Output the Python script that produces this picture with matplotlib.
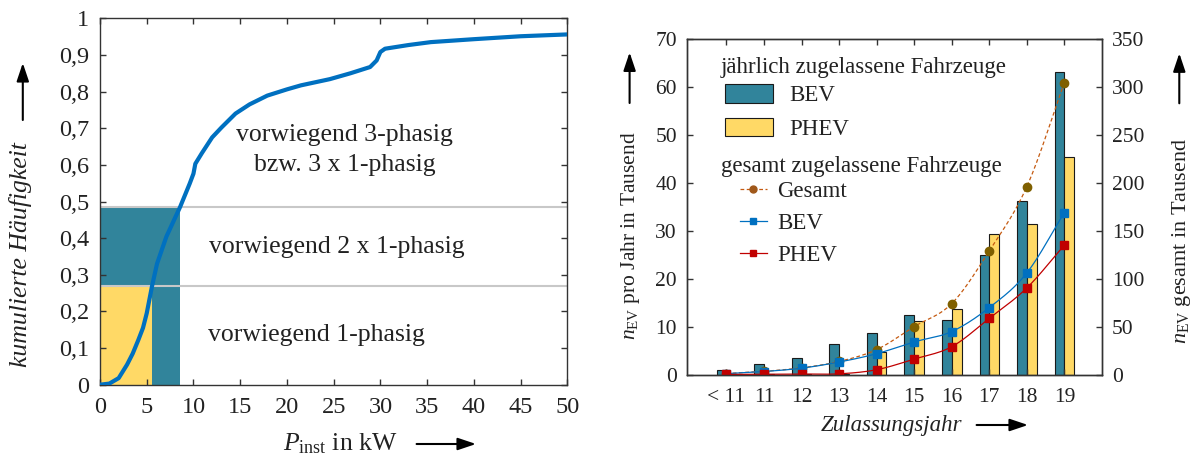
import matplotlib
matplotlib.use('Agg')
import matplotlib.pyplot as plt
from matplotlib.patches import Patch
from matplotlib.lines import Line2D
import numpy as np

plt.rcParams['font.family'] = ['Liberation Serif', 'DejaVu Serif']
plt.rcParams['mathtext.fontset'] = 'custom'
plt.rcParams['mathtext.rm'] = 'Liberation Serif'
plt.rcParams['mathtext.it'] = 'Liberation Serif:italic'
plt.rcParams['font.size'] = 16

# ---- linkes Diagramm: kumulierte Haeufigkeit ueber P_inst ----
p_inst = [0, 1.0, 2.0, 2.9, 3.5, 4.1, 4.6, 5.0, 5.55, 6.1, 7.1, 8.57, 9.6, 10.0,
          10.2, 10.9, 12.0, 13.0, 14.5, 16.0, 17.9, 20.0, 21.5, 24.6, 26.8, 28.9,
          29.6, 30.0, 30.5, 33.0, 35.4, 40.0, 45.0, 50.0]
haeufigkeit = [0, 0.003, 0.018, 0.055, 0.085, 0.122, 0.155, 0.195, 0.267, 0.33,
               0.404, 0.485, 0.549, 0.576, 0.603, 0.632, 0.675, 0.702, 0.74, 0.765,
               0.789, 0.806, 0.817, 0.834, 0.85, 0.867, 0.885, 0.908, 0.917, 0.927,
               0.935, 0.943, 0.951, 0.956]
grenze_p = [5.6, 8.6]        # kW
grenze_h = [0.27, 0.485]     # kumulierte Haeufigkeit

# ---- rechtes Diagramm: Zulassungen ----
jahre = ['< 11', '11', '12', '13', '14', '15', '16', '17', '18', '19']
bev_jahr = [0.9, 2.1, 3.4, 6.4, 8.6, 12.4, 11.3, 25.0, 36.1, 63.2]
phev_jahr = [0.1, 0.2, 0.2, 0.2, 4.6, 11.1, 13.7, 29.4, 31.4, 45.3]
gesamt = [1.0, 3.3, 7.0, 13.6, 26.0, 50.0, 74.0, 129.0, 196.0, 304.5]
bev_ges = [0.9, 3.1, 6.6, 13.0, 21.7, 34.0, 44.8, 69.8, 106.0, 169.0]
phev_ges = [0.1, 0.3, 0.5, 0.7, 5.0, 16.1, 29.0, 58.6, 90.3, 135.0]

teal = '#31849b'
gelb = '#ffd966'
blau = '#0070c0'
rot = '#c00000'
orange = '#c55a11'
braun = '#7f6000'
txt = '#222222'

fs_l = 18.5   # Schrift links
fs_r = 16.5   # Schrift rechts


def glatt(y, n=20):
    # Catmull-Rom Kurve durch gleichabstaendige Punkte
    y = np.asarray(y, float)
    m = np.empty_like(y)
    m[1:-1] = (y[2:] - y[:-2]) / 2
    m[0] = y[1] - y[0]
    m[-1] = y[-1] - y[-2]
    xs, ys = [], []
    t = np.linspace(0, 1, n, endpoint=False)
    h00 = 2*t**3 - 3*t**2 + 1
    h10 = t**3 - 2*t**2 + t
    h01 = -2*t**3 + 3*t**2
    h11 = t**3 - t**2
    for i in range(len(y) - 1):
        xs.extend(i + t)
        ys.extend(h00*y[i] + h10*m[i] + h01*y[i+1] + h11*m[i+1])
    xs.append(len(y) - 1)
    ys.append(y[-1])
    return np.array(xs), np.array(ys)


fig = plt.figure(figsize=(11.96, 4.58), dpi=100)
W, H = 1196.0, 458.0

# ================= links =================
ax = fig.add_axes([100/W, 1-384.7/H, 467.3/W, 366.4/H])
ax.fill_between([0, grenze_p[1]], 0, grenze_h[1], color=teal, lw=0, zorder=1)
ax.fill_between([0, grenze_p[0]], 0, grenze_h[0], color=gelb, lw=0, zorder=1)
for h in grenze_h:
    ax.axhline(h, color='#c8c8c8', lw=1.5, zorder=2)
ax.plot(p_inst, haeufigkeit, color=blau, lw=3, zorder=3, solid_capstyle='butt')

ax.set_xlim(0, 50)
ax.set_ylim(0, 1)
ax.set_xticks(range(0, 51, 5))
yt = np.round(np.arange(0, 1.01, 0.1), 1)
ax.set_yticks(yt)
ax.set_yticklabels(['0' if v == 0 else '1' if v == 1 else ('%.1f' % v).replace('.', ',') for v in yt])
ax.tick_params(direction='in', top=True, right=True, length=4, width=1,
               labelsize=17.5, colors='#333333', labelcolor=txt)
ax.tick_params(axis='x', pad=9)
ax.tick_params(axis='y', pad=8)
for s in ax.spines.values():
    s.set_color('#333333')
    s.set_linewidth(1)

ax.text(26.2, 0.681, 'vorwiegend 3-phasig', ha='center', va='center', fontsize=fs_l, color=txt)
ax.text(26.2, 0.599, 'bzw. 3 x 1-phasig', ha='center', va='center', fontsize=fs_l, color=txt)
ax.text(25.3, 0.376, 'vorwiegend 2 x 1-phasig', ha='center', va='center', fontsize=fs_l, color=txt)
ax.text(23.2, 0.136, 'vorwiegend 1-phasig', ha='center', va='center', fontsize=fs_l, color=txt)

fig.text(21/W, 1-254.6/H, 'kumulierte Häufigkeit', rotation=90, ha='center',
         va='center', style='italic', fontsize=fs_l, color=txt)
fig.text(339.8/W, 1-444/H, r'$P_{\mathrm{inst}}$ in kW', ha='center', va='center',
         fontsize=fs_l, color=txt)

# ================= rechts =================
ax1 = fig.add_axes([686.7/W, 1-374.5/H, 415.6/W, 335.5/H])
ax2 = ax1.twinx()
x = np.arange(len(jahre))
ax1.bar(x, bev_jahr, width=-0.26, align='edge', color=teal, edgecolor='#1a1a1a', lw=0.8)
ax1.bar(x, phev_jahr, width=0.26, align='edge', color=gelb, edgecolor='#1a1a1a', lw=0.8)

for werte, farbe, ls, mk, mc, ms in [(gesamt, orange, (0, (3, 2)), 'o', braun, 6),
                                     (bev_ges, blau, '-', 's', blau, 6),
                                     (phev_ges, rot, '-', 's', rot, 6)]:
    gx, gy = glatt(werte)
    ax2.plot(gx, gy, color=farbe, lw=0.9, ls=ls)
    ax2.plot(x, werte, ls='none', marker=mk, ms=ms, mfc=mc, mec=mc)

ax1.set_xlim(-1.06, 10.01)
ax1.set_ylim(0, 70)
ax2.set_ylim(0, 350)
ax1.set_xticks(x)
ax1.set_xticklabels(jahre)
ax1.set_yticks(range(0, 71, 10))
ax2.set_yticks(range(0, 351, 50))
ax1.tick_params(direction='in', top=True, right=False, length=4, width=1,
                pad=7, labelsize=15.5, colors='#333333', labelcolor=txt)
ax1.tick_params(axis='x', pad=10)
ax2.tick_params(direction='in', length=4, width=1, pad=7, labelsize=15.5,
                colors='#333333', labelcolor=txt)
for a in (ax1, ax2):
    for s in a.spines.values():
        s.set_color('#333333')
        s.set_linewidth(1)

ax2.text(0.0825, 0.914, 'jährlich zugelassene Fahrzeuge', transform=ax2.transAxes,
         ha='left', va='center', fontsize=fs_r, color=txt)
leg1 = ax2.legend(handles=[Patch(fc=teal, ec='#1a1a1a', lw=0.8, label='BEV'),
                           Patch(fc=gelb, ec='#1a1a1a', lw=0.8, label='PHEV')],
                  loc='upper left', bbox_to_anchor=(0.093, 0.866), frameon=False,
                  borderpad=0, borderaxespad=0, handlelength=2.1, handleheight=0.88,
                  handletextpad=0.7, labelspacing=0.5, fontsize=fs_r)
for t in leg1.get_texts():
    t.set_color(txt)
ax2.add_artist(leg1)
ax2.text(0.0825, 0.621, 'gesamt zugelassene Fahrzeuge', transform=ax2.transAxes,
         ha='left', va='center', fontsize=fs_r, color=txt)
leg2 = ax2.legend(handles=[Line2D([], [], color=orange, ls=(0, (3, 2)), lw=0.9, marker='o',
                                  ms=5, mfc='#a0581a', mec='#a0581a', label='Gesamt'),
                           Line2D([], [], color=blau, lw=0.9, marker='s', ms=5,
                                  mfc=blau, mec=blau, label='BEV'),
                           Line2D([], [], color=rot, lw=0.9, marker='s', ms=5,
                                  mfc=rot, mec=rot, label='PHEV')],
                  loc='upper left', bbox_to_anchor=(0.128, 0.577), frameon=False,
                  borderpad=0, borderaxespad=0, handlelength=1.18, handletextpad=0.45,
                  labelspacing=0.48, fontsize=fs_r)
for t in leg2.get_texts():
    t.set_color(txt)

fig.text(630.4/W, 1-236/H, r'$n_{\mathrm{EV}}$ pro Jahr in Tausend', rotation=90,
         ha='center', va='center', fontsize=15.5, color=txt)
fig.text(1181.7/W, 1-241/H, r'$n_{\mathrm{EV}}$ gesamt in Tausend', rotation=90,
         ha='center', va='center', fontsize=16, color=txt)
fig.text(891/W, 1-425/H, 'Zulassungsjahr', ha='center', va='center', style='italic',
         fontsize=fs_r, color=txt)

# Pfeile an den Achsbeschriftungen
pfeil = dict(arrowstyle='-|>,head_length=1.1,head_width=0.37', color='k', lw=1.5,
             shrinkA=0, shrinkB=0, mutation_scale=10)
for (x0, y0, x1, y1) in [(22.8, 120, 22.8, 63), (416.6, 444, 476, 444),
                         (629.6, 103, 629.6, 52.4), (1179.3, 103.3, 1179.3, 53.3),
                         (976.6, 425, 1028, 425)]:
    fig.add_artist(plt.Annotation('', xy=(x1, H - y1), xytext=(x0, H - y0),
                                  xycoords='figure pixels', arrowprops=pfeil))

fig.savefig('out.png', dpi=100)
